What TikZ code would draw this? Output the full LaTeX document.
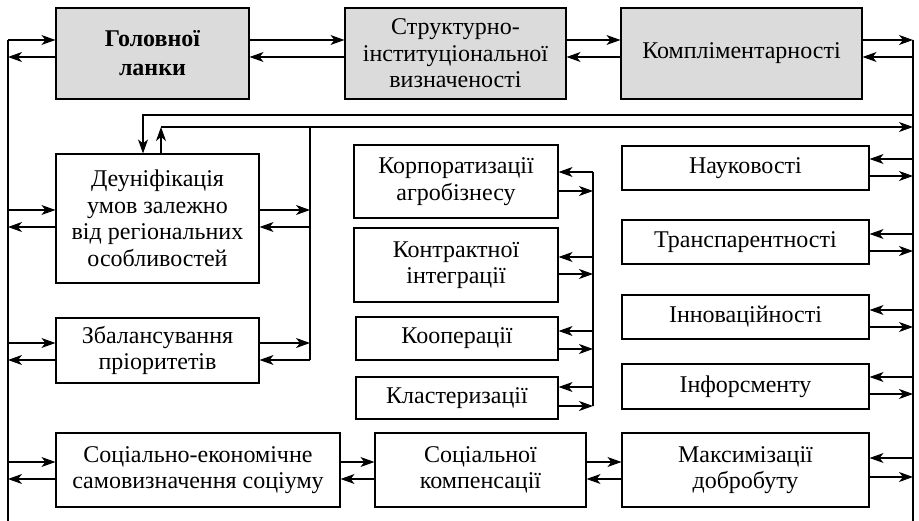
\documentclass[tikz,border=0pt]{standalone}
\usepackage{fontspec}
\setmainfont{Liberation Serif}
\usetikzlibrary{arrows.meta}
\begin{document}
\begin{tikzpicture}[x=1pt,y=-1pt,>={Stealth[length=14pt,width=10pt,inset=4pt]},line width=1.1pt,
  box/.style={draw,align=center,inner sep=1pt,font=\fontsize{24}{26.5}\selectfont},
  hbox/.style={box,fill=black!14}]
\useasboundingbox (0,0) rectangle (919,521);
% pair of arrows: #1 left end, #2 right end, #3 y of the right arrow, #4 y of the left arrow
\def\lr#1#2#3#4{\draw[->] (#1|-0,#3)--(#2|-0,#3); \draw[<-] (#1|-0,#4)--(#2|-0,#4);}
\def\rl#1#2#3#4{\draw[<-] (#1|-0,#3)--(#2|-0,#3); \draw[->] (#1|-0,#4)--(#2|-0,#4);}
% top row
\node[hbox,minimum width=193pt,minimum height=91pt,font=\fontsize{24}{29}\selectfont\bfseries] (head) at (152.5,53.5) {Головної\\ланки};
\node[hbox,minimum width=221pt,minimum height=91pt] (struct) at (455.5,53.5) {Структурно-\\інституціональної\\визначеності};
\node[hbox,minimum width=241pt,minimum height=91pt] (compl) at (741.5,53.5) {Компліментарності};
% left column
\node[box,minimum width=203pt,minimum height=129pt] (deun) at (157.5,218.5) {Деуніфікація\\умов залежно\\від регіональних\\особливостей};
\node[box,minimum width=203pt,minimum height=65pt] (zbal) at (157.5,350.5) {Збалансування\\пріоритетів};
% middle column
\node[box,minimum width=204pt,minimum height=73pt] (korp) at (456,181.5) {Корпоратизації\\агробізнесу};
\node[box,minimum width=204pt,minimum height=74pt] (kontr) at (456,265) {Контрактної\\інтеграції};
\node[box,minimum width=202pt,minimum height=43pt] (koop) at (457,338.5) {Кооперації};
\node[box,minimum width=202pt,minimum height=42pt] (klast) at (457,398) {Кластеризації};
% right column
\node[box,minimum width=247pt,minimum height=44pt] (nauk) at (745.5,168) {Науковості};
\node[box,minimum width=247pt,minimum height=44pt] (trans) at (745.5,242) {Транспарентності};
\node[box,minimum width=247pt,minimum height=44pt] (innov) at (745.5,317) {Інноваційності};
\node[box,minimum width=247pt,minimum height=45pt] (inform) at (745.5,386.5) {Інфорсменту};
% bottom row
\node[box,minimum width=284pt,minimum height=74pt] (socek) at (198,470) {Соціально-економічне\\самовизначення соціуму};
\node[box,minimum width=211pt,minimum height=74pt] (soccomp) at (480.5,470) {Соціальної\\компенсації};
\node[box,minimum width=247pt,minimum height=74pt] (maxd) at (745.5,470) {Максимізації\\добробуту};
% buses
\coordinate (lbt) at (8,40); \coordinate (lbb) at (8,521);
\coordinate (rbt) at (913,40); \coordinate (rbb) at (913,521);
\coordinate (dbt) at (310,127); \coordinate (dbb) at (310,360);
\coordinate (mbt) at (593,172); \coordinate (mbb) at (593,406);
\coordinate (fa) at (143,115); \coordinate (fb) at (161,127);
\draw (lbt)--(lbb); \draw (rbt)--(rbb); \draw (dbt)--(dbb); \draw (mbt)--(mbb);
% top row links
\lr{lbt}{head.west}{40}{57}
\lr{head.east}{struct.west}{40}{57}
\lr{struct.east}{compl.west}{40}{57}
\lr{compl.east}{rbt}{40}{57}
% feedback lines
\draw[->] (rbt|-fa)--(fa)--(fa|-deun.north);
\draw[->] (deun.north-|fb)--(fb);
\draw[->] (fb)--(rbt|-fb);
% left column links
\lr{lbt}{deun.west}{210}{227}
\lr{deun.east}{dbt}{210}{227}
\lr{lbt}{zbal.west}{343}{360}
\lr{zbal.east}{dbt}{343}{360}
% middle column links
\rl{korp.east}{mbt}{172}{191}
\rl{kontr.east}{mbt}{257}{274}
\rl{koop.east}{mbt}{331}{349}
\rl{klast.east}{mbt}{387}{406}
% right column links
\rl{nauk.east}{rbt}{159}{176}
\rl{trans.east}{rbt}{234}{251}
\rl{innov.east}{rbt}{310}{327}
\rl{inform.east}{rbt}{377}{394}
% bottom row links
\lr{lbt}{socek.west}{462}{479}
\lr{socek.east}{soccomp.west}{462}{479}
\lr{soccomp.east}{maxd.west}{462}{479}
\rl{maxd.east}{rbt}{458}{477}
\end{tikzpicture}
\end{document}
